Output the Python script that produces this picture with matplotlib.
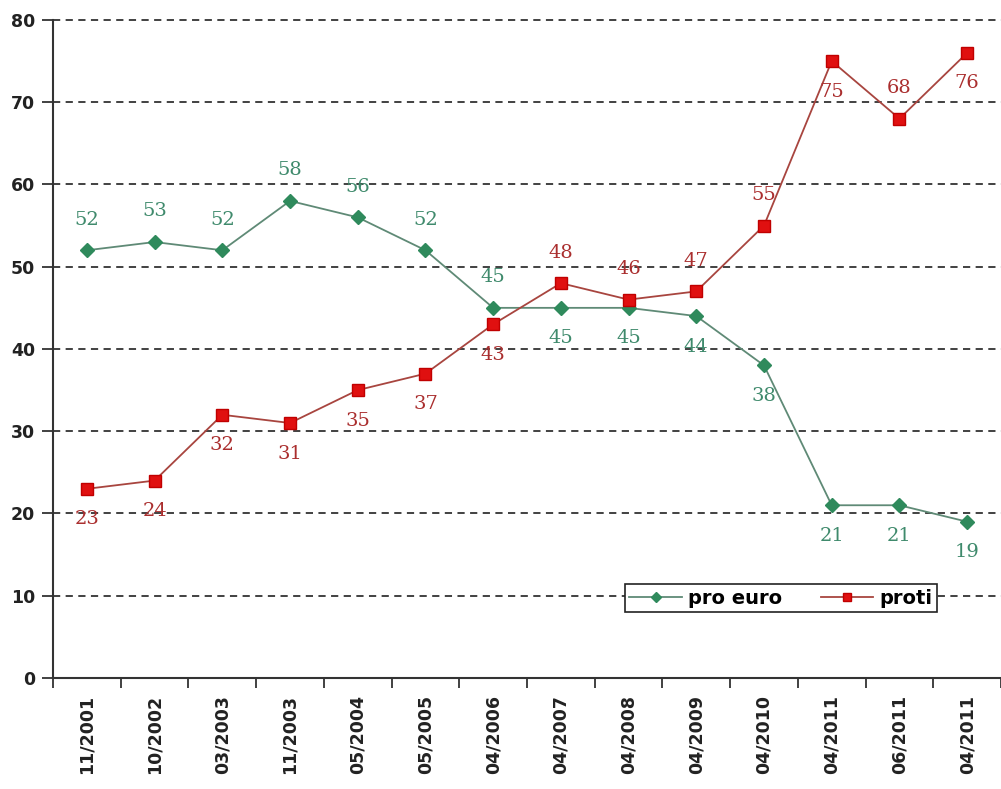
import numpy as np
import matplotlib.pyplot as plt

# survey dates and shares (%)
dates = ['11/2001', '10/2002', '03/2003', '11/2003', '05/2004', '05/2005', '04/2006',
         '04/2007', '04/2008', '04/2009', '04/2010', '04/2011', '06/2011', '04/2011']
pro_euro = [52, 53, 52, 58, 56, 52, 45, 45, 45, 44, 38, 21, 21, 19]
proti = [23, 24, 32, 31, 35, 37, 43, 48, 46, 47, 55, 75, 68, 76]

# label placement: +1 above the point, -1 below
pro_side = [1, 1, 1, 1, 1, 1, 1, -1, -1, -1, -1, -1, -1, -1]
proti_side = [-1, -1, -1, -1, -1, -1, -1, 1, 1, 1, 1, -1, 1, -1]

fig = plt.figure(figsize=(10.01, 7.89), dpi=100)
ax = fig.add_axes([0.053, 0.1407, 0.947, 0.834])

x = np.arange(len(dates))
ax.plot(x, pro_euro, color='#5f8a76', lw=1.3, marker='D', ms=7,
        mfc='#2f8a5c', mec='#2f8a5c', label='pro euro', zorder=3)
ax.plot(x, proti, color='#a8453f', lw=1.3, marker='s', ms=8.5,
        mfc='#e01010', mec='#c00000', label='proti', zorder=3)

for xi, v, s in zip(x, pro_euro, pro_side):
    ax.annotate(str(v), (xi, v), xytext=(0, 22 * s), textcoords='offset points',
                ha='center', va='center', fontsize=14, family='DejaVu Serif',
                color='#3f8a6c')
for xi, v, s in zip(x, proti, proti_side):
    ax.annotate(str(v), (xi, v), xytext=(0, 22 * s), textcoords='offset points',
                ha='center', va='center', fontsize=14, family='DejaVu Serif',
                color='#aa2e2e')

ax.set_xlim(-0.5, len(dates) - 0.5)
ax.set_ylim(0, 80)
ax.set_yticks(range(0, 81, 10))
ax.set_yticklabels([str(v) for v in range(0, 81, 10)], fontsize=12.5,
                   fontweight='bold', color='#222222')
for v in range(10, 81, 10):
    ax.axhline(v, color='#333333', ls=(0, (4, 3)), lw=1.3, zorder=1, clip_on=False)

ax.set_xticks(x)
ax.set_xticklabels(dates, rotation=90, fontsize=12.5, fontweight='bold', color='#222222')
ax.set_xticks(np.arange(-0.5, len(dates), 1), minor=True)
ax.tick_params(axis='x', which='major', length=0, pad=12)
ax.tick_params(axis='x', which='minor', length=7, width=1.3, direction='out', color='#333333')
ax.tick_params(axis='y', length=8, width=1.3, color='#333333', pad=5)

for side in ['top', 'right']:
    ax.spines[side].set_visible(False)
for side in ['left', 'bottom']:
    ax.spines[side].set_linewidth(1.5)
    ax.spines[side].set_color('#333333')

leg = ax.legend(loc='center', bbox_to_anchor=(0.78, 0.242), bbox_transform=fig.transFigure,
                ncol=2, frameon=True, fancybox=False,
                prop={'weight': 'bold', 'size': 14}, handlelength=2.7,
                handletextpad=0.3, columnspacing=2.0, borderpad=0.25, markerscale=0.75)
leg.get_frame().set_edgecolor('#222222')
leg.get_frame().set_linewidth(1.2)
leg.get_frame().set_alpha(1)
leg.set_zorder(5)

fig.savefig('out.png', dpi=100)
